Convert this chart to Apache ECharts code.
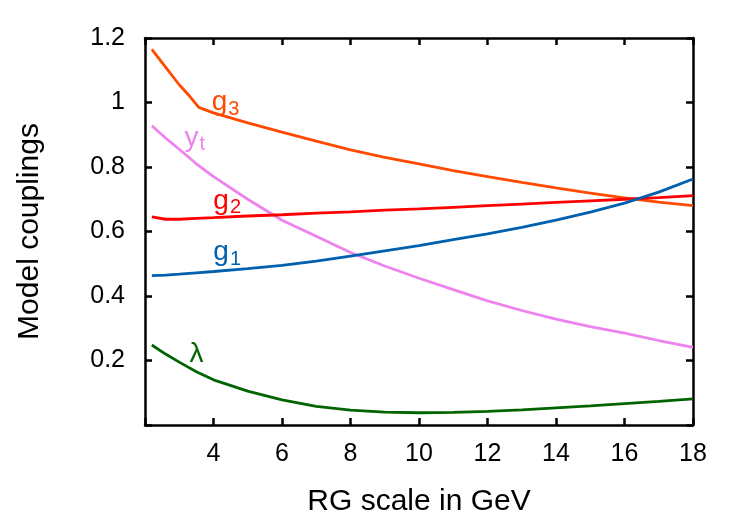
<!DOCTYPE html>
<html>
<head>
  <meta charset="utf-8">
  <title>Model couplings</title>
  <script src="https://cdn.jsdelivr.net/npm/echarts@6/dist/echarts.min.js"></script>
  <style>
    html, body { margin: 0; padding: 0; background: #fff; }
    #chart { width: 750px; height: 525px; }
  </style>
</head>
<body>
  <div id="chart"></div>
  <script>
    // RG scale (GeV) sample points
    const scale = [2.2, 2.6, 3, 3.5, 4, 5, 6, 7, 8, 9, 10, 11, 12, 13, 14, 15, 16, 17, 18];
    const g1 = [0.463, 0.465, 0.468, 0.472, 0.476, 0.485, 0.495, 0.508, 0.524, 0.540, 0.556, 0.575, 0.593, 0.613, 0.635, 0.660, 0.688, 0.722, 0.763];
    const g2 = [0.645, 0.638, 0.638, 0.641, 0.643, 0.648, 0.652, 0.657, 0.661, 0.666, 0.670, 0.675, 0.680, 0.685, 0.690, 0.695, 0.700, 0.705, 0.711];
    const yt = [0.928, 0.890, 0.855, 0.810, 0.770, 0.700, 0.635, 0.585, 0.535, 0.493, 0.455, 0.420, 0.385, 0.355, 0.328, 0.305, 0.285, 0.262, 0.241];
    const lam = [0.248, 0.220, 0.195, 0.165, 0.140, 0.105, 0.078, 0.058, 0.046, 0.040, 0.038, 0.039, 0.042, 0.047, 0.053, 0.059, 0.066, 0.073, 0.081];
    // g3 has a kink near 3.57 GeV
    const scaleG3 = [2.2, 2.6, 3, 3.3, 3.57, 4, 5, 6, 7, 8, 9, 10, 11, 12, 13, 14, 15, 16, 17, 18];
    const g3 = [1.165, 1.110, 1.055, 1.020, 0.985, 0.968, 0.937, 0.908, 0.880, 0.853, 0.830, 0.810, 0.789, 0.770, 0.752, 0.735, 0.719, 0.704, 0.691, 0.680];

    const xTicks = [4, 6, 8, 10, 12, 14, 16, 18];
    const yTicks = [0.2, 0.4, 0.6, 0.8, 1, 1.2];

    const pairs = (xs, ys) => xs.map((x, i) => [x, ys[i]]);
    const font = "'Liberation Sans', Arial, sans-serif";

    function tag(color, text, coord) {
      return {
        symbol: 'circle', symbolSize: 0,
        data: [{ coord: coord }],
        label: {
          show: true, position: 'inside', formatter: text,
          color: color, fontFamily: font, fontSize: 28,
          rich: { s: { fontSize: 20, color: color, fontFamily: font, padding: [14, 0, 0, 1] } }
        }
      };
    }

    function line(name, color, data, mark) {
      return {
        name: name, type: 'line', data: data, showSymbol: false, smooth: false,
        lineStyle: { color: color, width: 2.8 }, itemStyle: { color: color },
        markPoint: mark, z: 3
      };
    }

    // fresh objects for each axis
    const frameLine = () => ({ show: true, onZero: false, lineStyle: { color: '#000', width: 2.5 } });
    const inTick = () => ({ show: true, inside: true, length: 7, lineStyle: { color: '#000', width: 2.5 } });

    const chart = echarts.init(document.getElementById('chart'));
    chart.setOption({
      animation: false,
      grid: { left: 145, right: 57, top: 38, bottom: 100 },
      xAxis: [{
        type: 'value', position: 'bottom', min: 2, max: 18, interval: 2,
        name: 'RG scale in GeV', nameLocation: 'middle', nameGap: 62,
        nameTextStyle: { fontFamily: font, fontSize: 30, color: '#000' },
        axisLine: frameLine(), axisTick: inTick(),
        axisLabel: {
          fontFamily: font, fontSize: 25, color: '#000', margin: 17,
          formatter: v => xTicks.includes(v) ? String(v) : ''
        },
        splitLine: { show: false }
      }, {
        type: 'value', position: 'top', min: 2, max: 18, interval: 2,
        axisLine: frameLine(), axisTick: inTick(),
        axisLabel: { show: false }, splitLine: { show: false }
      }],
      yAxis: [{
        type: 'value', position: 'left', min: 0, max: 1.2, interval: 0.2,
        name: 'Model couplings', nameLocation: 'middle', nameGap: 100,
        nameTextStyle: { fontFamily: font, fontSize: 30, color: '#000' },
        axisLine: frameLine(), axisTick: inTick(),
        axisLabel: {
          fontFamily: font, fontSize: 25, color: '#000', margin: 20,
          formatter: v => {
            const t = yTicks.find(k => Math.abs(k - v) < 1e-6);
            return t === undefined ? '' : String(t);
          }
        },
        splitLine: { show: false }
      }, {
        type: 'value', position: 'right', min: 0, max: 1.2, interval: 0.2,
        axisLine: frameLine(), axisTick: inTick(),
        axisLabel: { show: false }, splitLine: { show: false }
      }],
      series: [
        line('g3', '#ff4a00', pairs(scaleG3, g3), tag('#ff4a00', 'g{s|3}', [4.35, 1.0])),
        line('yt', '#ee82ee', pairs(scale, yt), tag('#ee82ee', 'y{s|t}', [3.45, 0.89])),
        line('g2', '#ff0000', pairs(scale, g2), tag('#ff0000', 'g{s|2}', [4.4, 0.695])),
        line('g1', '#0060ad', pairs(scale, g1), tag('#0060ad', 'g{s|1}', [4.4, 0.535])),
        line('λ', '#006400', pairs(scale, lam), tag('#006400', 'λ', [3.5, 0.22]))
      ]
    });
  </script>
</body>
</html>
